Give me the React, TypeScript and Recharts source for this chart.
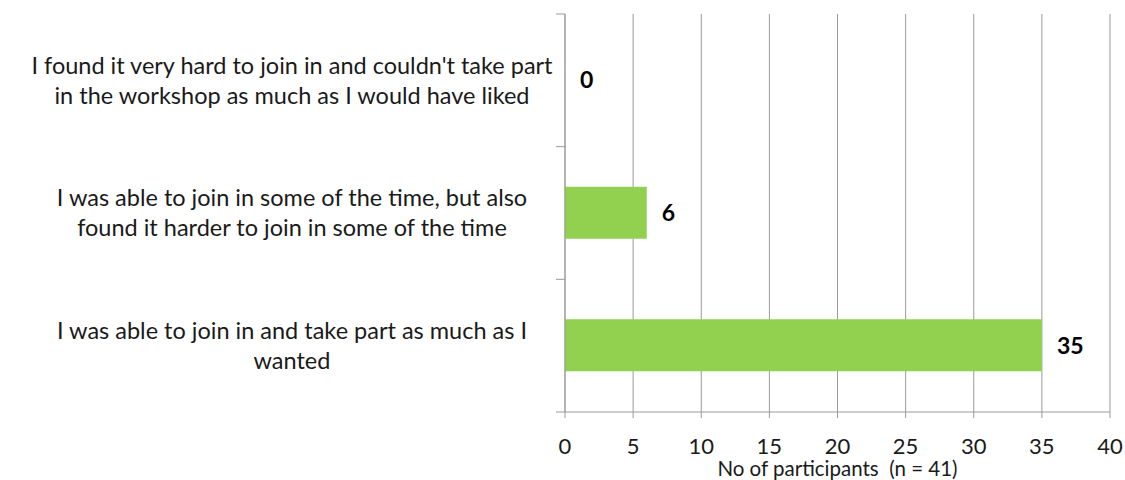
import { ComposedChart, Bar, Line, XAxis, YAxis, CartesianGrid, LabelList } from "recharts";

const answers = [
  ["I found it very hard to join in and couldn't take part", "in the workshop as much as I would have liked"],
  ["I was able to join in some of the time, but also", "found it harder to join in some of the time"],
  ["I was able to join in and take part as much as I", "wanted"],
];
const participants = [0, 6, 35];
const xTicks = [0, 5, 10, 15, 20, 25, 30, 35, 40];
const xTitle = "No of participants \u00a0(n = 41)";

const data = answers.map((lines, i) => ({ answer: lines.join(" "), lines, value: participants[i] }));

const W = 1125;
const H = 480;
const AXIS_H = 68;
const AXIS_W = 565;
const M = { top: 14, right: 15, bottom: 0, left: 0 };
const band = (H - M.top - AXIS_H) / data.length;
const FONT = "Lato, 'Open Sans', sans-serif";
const GRID = "#9a9a9a";

function AnswerTick(props: any) {
  const { y, index } = props;
  const lines: string[] = data[index].lines;
  const ax = AXIS_W;
  const cx = ax - 273;
  return (
    <g>
      <line x1={ax - 9} x2={ax} y1={y - band / 2} y2={y - band / 2} stroke={GRID} />
      {index === data.length - 1 && (
        <line x1={ax - 9} x2={ax} y1={y + band / 2} y2={y + band / 2} stroke={GRID} />
      )}
      {lines.map((t, i) => (
        <text
          key={i}
          x={cx}
          y={y + (i - (lines.length - 1) / 2) * 30}
          dy="0.36em"
          textAnchor="middle"
          fontFamily={FONT}
          fontSize={23.5}
          fill="#1a1a1a"
        >
          {t}
        </text>
      ))}
    </g>
  );
}

export default function App() {
  return (
    <div style={{ position: "absolute", left: 0, top: 0, width: W, height: H, background: "#fff" }}>
      <ComposedChart width={W} height={H} data={data} layout="vertical" margin={M}>
        <CartesianGrid horizontal={false} stroke={GRID} strokeWidth={1} />
        <XAxis
          type="number"
          domain={[0, 40]}
          ticks={xTicks}
          interval={0}
          stroke={GRID}
          tickSize={6}
          tickMargin={20}
          height={AXIS_H}
          tick={{ fill: "#1a1a1a", fontSize: 22, fontFamily: FONT }}
          label={{
            value: xTitle,
            position: "insideBottom",
            offset: 4,
            fill: "#1a1a1a",
            fontSize: 20.5,
            fontFamily: FONT,
          }}
        />
        <YAxis
          type="category"
          dataKey="answer"
          width={AXIS_W}
          stroke={GRID}
          tickLine={false}
          interval={0}
          tick={<AnswerTick />}
        />
        <Bar dataKey="value" fill="#92d050" barSize={52} isAnimationActive={false} />
        {/* invisible series that carries the value labels, so the empty bar gets its 0 too */}
        <Line
          dataKey="value"
          stroke="none"
          dot={false}
          activeDot={false}
          isAnimationActive={false}
        >
          <LabelList
            dataKey="value"
            position="right"
            offset={15}
            fill="#000"
            fontSize={23}
            fontWeight="bold"
            fontFamily={FONT}
          />
        </Line>
      </ComposedChart>
    </div>
  );
}
